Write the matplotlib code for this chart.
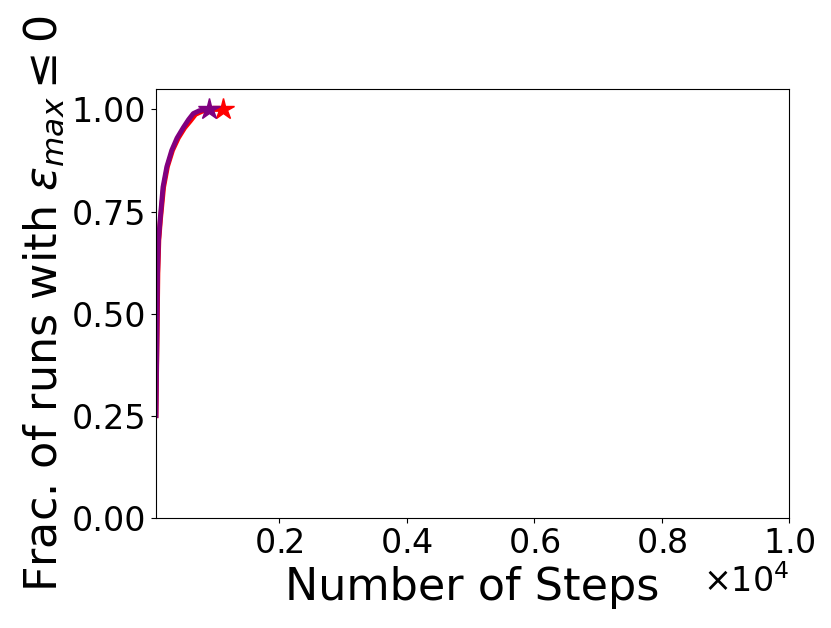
import matplotlib
matplotlib.use("Agg")
import matplotlib.pyplot as plt

# cumulative fraction of runs reaching eps_max <= 0, per number of steps
steps_red = [70, 88, 100, 115, 140, 190, 250, 330, 420, 520, 610, 690, 800, 950, 1127]
frac_red = [0.25, 0.45, 0.60, 0.68, 0.73, 0.81, 0.86, 0.90, 0.93, 0.955, 0.972, 0.988, 0.996, 1.0, 1.0]

steps_purple = [70, 85, 95, 110, 135, 180, 240, 317, 400, 500, 580, 655, 750, 850, 907]
frac_purple = [0.25, 0.45, 0.60, 0.68, 0.73, 0.81, 0.86, 0.90, 0.93, 0.956, 0.975, 0.99, 0.997, 1.0, 1.0]

fig = plt.figure(figsize=(8.31, 6.28), dpi=100)
ax = fig.add_axes([0.1877, 0.1756, 0.7618, 0.6826])

ax.plot(steps_red, frac_red, color="red", linewidth=3.5)
ax.plot(steps_red[-1], frac_red[-1], marker="*", color="red", markersize=16)
ax.plot(steps_purple, frac_purple, color="purple", linewidth=3.5)
ax.plot(steps_purple[-1], frac_purple[-1], marker="*", color="purple", markersize=16)

ax.set_xlim(70, 10000)
ax.set_ylim(0, 1.05)
ax.set_yticks([0.0, 0.25, 0.5, 0.75, 1.0])
ax.ticklabel_format(axis="x", style="sci", scilimits=(0, 0), useMathText=True)
ax.tick_params(axis="both", labelsize=24)
ax.xaxis.get_offset_text().set_fontsize(24)

ax.set_xlabel("Number of Steps", fontsize=32)
ax.set_ylabel(r"Frac. of runs with $\varepsilon_{max} \leq 0$", fontsize=32)

fig.savefig("out.png", dpi=100, facecolor="white")
